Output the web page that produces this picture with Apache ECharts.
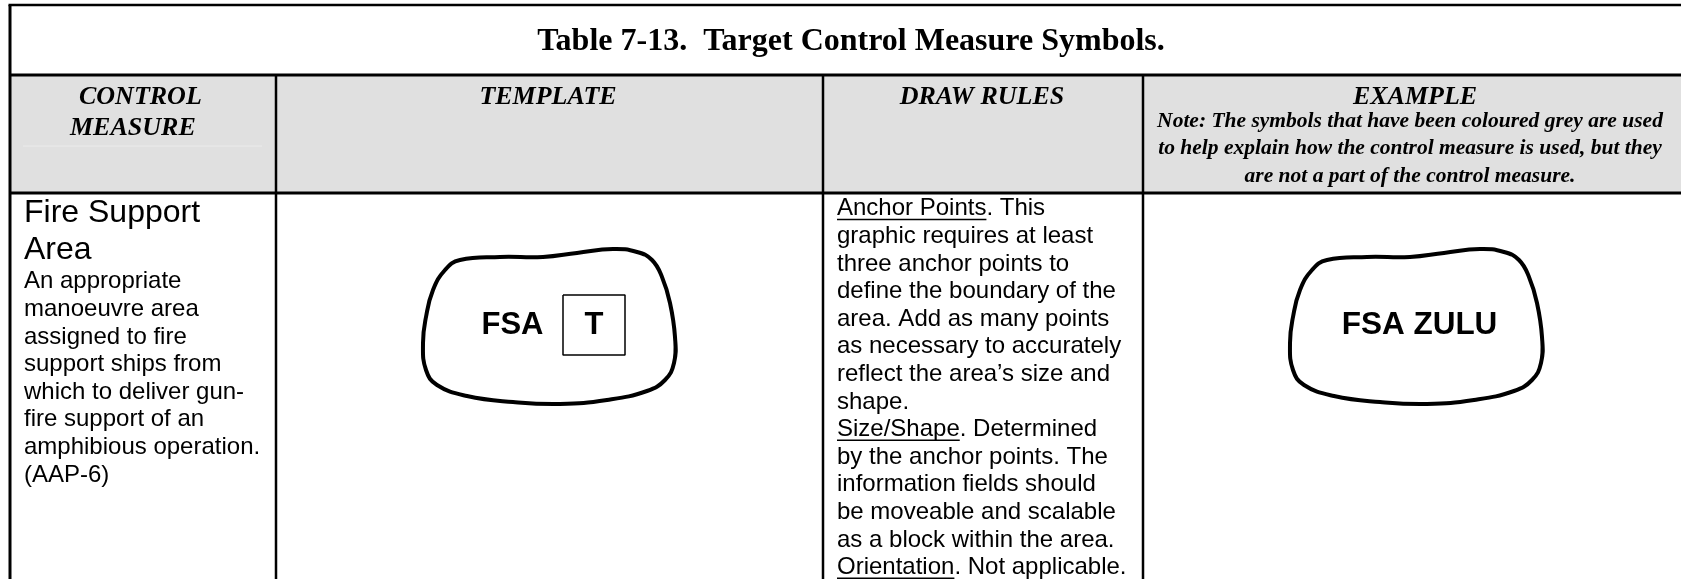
<!DOCTYPE html>
<html><head><meta charset="utf-8">
<script src="https://cdn.jsdelivr.net/npm/echarts@6/dist/echarts.min.js"></script>
<style>html,body{margin:0;padding:0;background:#fff;overflow:hidden}#c{width:1681px;height:579px}</style>
</head><body><div id="c"></div>
<script>
// ---- content ----
const title = 'Table 7-13.  Target Control Measure Symbols.';
const firstHeader = ['CONTROL', 'MEASURE'];
const columnHeaders = ['TEMPLATE', 'DRAW RULES', 'EXAMPLE'];
const noteLines = [
  'Note: The symbols that have been coloured grey are used',
  'to help explain how the control measure is used, but they',
  'are not a part of the control measure.'
];
const measureName = ['Fire Support', 'Area'];
const definition = [
  'An appropriate', 'manoeuvre area', 'assigned to fire', 'support ships from',
  'which to deliver gun-', 'fire support of an', 'amphibious operation.', '(AAP-6)'
];
const drawRules = [
  ['Anchor Points', '. This'],
  ['', 'graphic requires at least'],
  ['', 'three anchor points to'],
  ['', 'define the boundary of the'],
  ['', 'area. Add as many points'],
  ['', 'as necessary to accurately'],
  ['', 'reflect the area\u2019s size and'],
  ['', 'shape.'],
  ['Size/Shape', '. Determined'],
  ['', 'by the anchor points. The'],
  ['', 'information fields should'],
  ['', 'be moveable and scalable'],
  ['', 'as a block within the area.'],
  ['Orientation', '. Not applicable.']
];
const templateLabel = ['FSA', 'T'];
const exampleLabel = 'FSA ZULU';
// outline of the area symbol (anchor points)
const areaOutline = [
  [543,257],[577,253],[613,249],[637,252],[652,260],[662,277],[670,303],[675,337],
  [674,363],[665,380],[647,391],[607,400],[560,404],[513,402],[467,396],[437,385],
  [426,370],[423,343],[426,317],[433,290],[445,270],[460,260],[500,257]
];
const fieldBox = [[563,295],[625,295],[625,355],[563,355],[563,295]];
const exampleShift = 867;

// ---- layout ----
const W = 1681, H = 579;
const L = 10, R = 1690, TOP = 5, TITLE_B = 75, HEAD_B = 193;
const COLS = [276, 823, 1143];
const SANS = '"Liberation Sans", Arial, sans-serif';
const SERIF = '"Liberation Serif", "Times New Roman", serif';

const ctx = document.createElement('canvas').getContext('2d');
function textWidth(t, font) { ctx.font = font; return ctx.measureText(t).width; }

const g = [];
function line(x1, y1, x2, y2, w, c) {
  g.push({type: 'line', silent: true, shape: {x1, y1, x2, y2}, style: {stroke: c || '#000', lineWidth: w}});
}
function text(t, x, baseline, font, fs, align, k) {
  g.push({type: 'text', silent: true, style: {
    text: t, x: x, y: baseline - k * fs, font: font, fill: '#000',
    align: align, verticalAlign: 'middle', textAlign: align, textVerticalAlign: 'middle'
  }});
}

// header fill
g.push({type: 'rect', silent: true, shape: {x: L, y: TITLE_B, width: R - L, height: HEAD_B - TITLE_B}, style: {fill: '#e0e0e0'}});
line(23, 146, 262, 146, 1, '#ebebeb');
// grid lines
line(L - 1.5, TOP, W, TOP, 2.5);
line(L, TOP, L, H, 3);
line(L, TITLE_B, W, TITLE_B, 3);
line(L, HEAD_B, W, HEAD_B, 3);
COLS.forEach(x => line(x, TITLE_B, x, H, 2.5));

// title
text(title, 851, 52.7, 'bold 32px ' + SERIF, 32, 'center', 0.3375);
// headers
const fHead = 'bold italic 26px ' + SERIF;
text(firstHeader[0], 79, 106, fHead, 26, 'left', 0.3375);
text(firstHeader[1], 70, 137, fHead, 26, 'left', 0.3375);
const headCenters = [548, 982, 1415];
columnHeaders.forEach((h, i) => text(h, headCenters[i], 106, fHead, 26, 'center', 0.3375));
const fNote = 'bold italic 21.5px ' + SERIF;
noteLines.forEach((t, i) => text(t, 1410, 128.3 + i * 27.8, fNote, 21.5, 'center', 0.3375));

// control measure column
const fName = '32px ' + SANS;
measureName.forEach((t, i) => text(t, 24, 224 + i * 36.8, fName, 32, 'left', 0.3465));
const fBody = '24px ' + SANS;
definition.forEach((t, i) => text(t, 24, 290 + i * 27.6, fBody, 24, 'left', 0.3465));

// draw rules column
drawRules.forEach((parts, i) => {
  const b = 217 + i * 27.6;
  text(parts[0] + parts[1], 837, b, fBody, 24, 'left', 0.3465);
  if (parts[0]) {
    const w = textWidth(parts[0], fBody);
    line(837, b + 2.5, 837 + w, b + 2.5, 1.6);
  }
});

// symbol labels
const fSym = 'bold 31px ' + SANS;
text(templateLabel[0], 512.5, 336.5, fSym, 31, 'center', 0.3465);
text(templateLabel[1], 594, 336.5, fSym, 31, 'center', 0.3465);
text(exampleLabel, 1419.5, 336.5, 'bold 31.5px ' + SANS, 31.5, 'center', 0.3465);

const outlines = [areaOutline, areaOutline.map(p => [p[0] + exampleShift, p[1]])];

const chart = echarts.init(document.getElementById('c'), null, {renderer: 'canvas', width: W, height: H});
chart.setOption({
  animation: false,
  backgroundColor: '#fff',
  grid: {left: 0, right: 0, top: 0, bottom: 0},
  xAxis: {type: 'value', min: 0, max: W, show: false},
  yAxis: {type: 'value', min: 0, max: H, inverse: true, show: false},
  series: [
    {type: 'custom', silent: true, z: 5, data: [0, 1],
     renderItem: function (params, api) {
       const pts = outlines[params.dataIndex].map(p => api.coord(p));
       return {type: 'polygon', shape: {points: pts, smooth: 0.45},
               style: {fill: 'none', stroke: '#000', lineWidth: 4, lineJoin: 'round'}};
     }},
    {type: 'line', data: fieldBox, smooth: false, symbol: 'none', silent: true,
     lineStyle: {color: '#000', width: 1.5}, z: 5}
  ],
  graphic: {elements: g}
});
</script></body></html>
